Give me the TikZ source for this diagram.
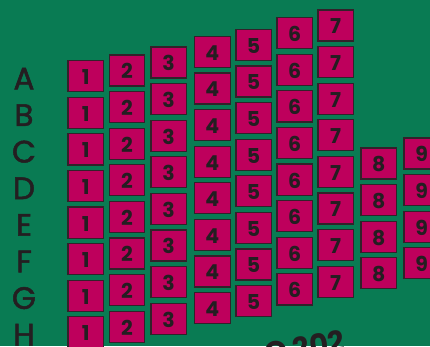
\documentclass[tikz,border=0pt]{standalone}
\usepackage{fontspec}
\setmainfont{Poppins}
\newfontfamily\rowfont{Poppins}[FakeBold=1.6]
\definecolor{bg}{RGB}{9,123,83}
\definecolor{seatfill}{RGB}{190,0,92}
\definecolor{seatline}{RGB}{50,34,42}
\definecolor{ink}{RGB}{36,30,33}
\tikzset{
  seat/.style={draw=seatline, fill=seatfill, line width=1.2pt,
    minimum width=35.5pt, minimum height=31.1pt, inner sep=0pt,
    text height=17pt, text depth=0pt,
    font=\fontsize{20.5}{24}\selectfont\bfseries, text=ink},
  rowlab/.style={font=\rowfont\fontsize{31}{36}\selectfont, text=ink, inner sep=0pt},
  caption/.style={font=\fontsize{29}{34}\selectfont\bfseries, text=ink, inner sep=0pt}
}
\begin{document}
\begin{tikzpicture}[x=1pt,y=-1pt]
\fill[bg] (0,0) rectangle (430,346);
\useasboundingbox (0,0) rectangle (430,346);
\clip (0,0) rectangle (430,346);
\foreach \c/\x/\t/\n in {1/85.65/60/8, 2/127.05/54.3/8, 3/168.65/46.3/8,
    4/212.35/35.7/8, 5/253.65/28.7/8, 6/294.65/17/8, 7/335.65/9.3/8,
    8/378.65/147.3/4, 9/421.65/137.3/4}{
  \foreach \r in {1,...,\n}{
    \pgfmathsetmacro\yy{\t+16.15+36.6*(\r-1)}
    \node[seat] (s\c-\r) at (\x,\yy) {\c};
  }
}
\foreach \l [count=\i] in {A,B,C,D,E,F,G,H}{
  \pgfmathsetmacro\yy{89.3+36.6*(\i-1)}
  \node[rowlab, anchor=base] (row\l) at (24,\yy) {\l};
}
\node[caption, rotate=9, anchor=base east] (cap) at (346.5,351) {O 202};
\end{tikzpicture}
\end{document}
